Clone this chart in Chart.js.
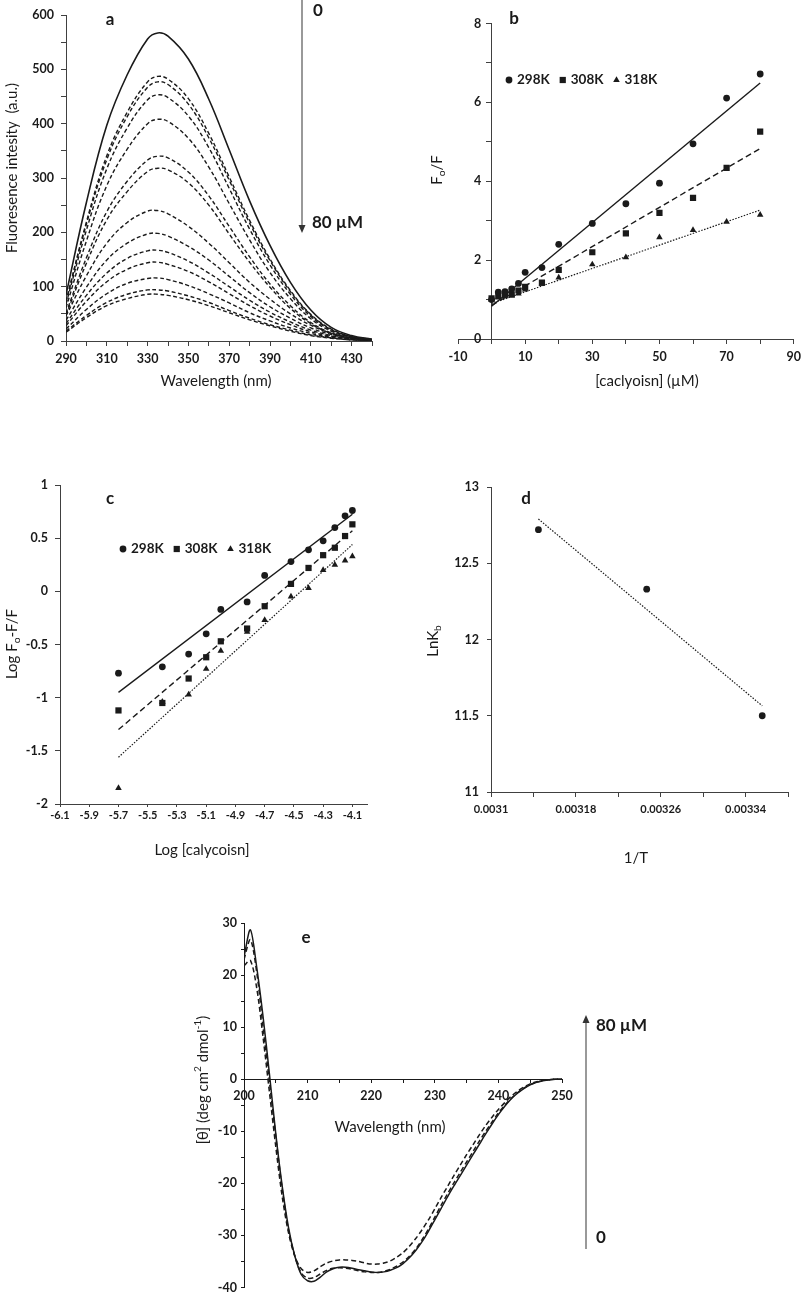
<!DOCTYPE html>
<html>
<head>
<meta charset="utf-8">
<script src="https://cdn.jsdelivr.net/npm/chart.js@4.4.1/dist/chart.umd.min.js"></script>
<style>
    html, body { margin: 0; padding: 0; background: #fff; }
    #fig { position: relative; width: 806px; height: 1299px; background: #fff; overflow: hidden; }
    #fig canvas { position: absolute; }
</style>
</head>
<body>
<div id="fig">
    <canvas id="chartA" width="400" height="400" style="left:0;top:0"></canvas>
    <canvas id="chartB" width="406" height="400" style="left:400px;top:0"></canvas>
    <canvas id="chartC" width="400" height="420" style="left:0;top:460px"></canvas>
    <canvas id="chartD" width="406" height="420" style="left:400px;top:460px"></canvas>
    <canvas id="chartE" width="520" height="419" style="left:150px;top:880px"></canvas>
</div>
<script>
// ── Panel a: emission spectra, 0 → 80 µM calycosin ───────────────────────
const emWavelength = [290, 300, 310, 320, 330, 335, 340, 350, 360, 370, 380, 390, 400, 410, 420, 430, 440];
const em0  = [85, 255, 397, 490, 556, 567, 561, 519, 445, 352, 258, 176, 108, 57, 25, 10, 3];
const em2  = [73, 219, 341, 421, 477, 487, 482, 446, 382, 302, 222, 151, 93, 49, 22, 8, 3];
const em4  = [72, 215, 334, 413, 467, 477, 472, 436, 374, 296, 217, 148, 91, 48, 21, 8, 3];
const em6  = [68, 204, 317, 392, 444, 453, 448, 414, 356, 281, 206, 140, 86, 45, 20, 8, 3];
const em8  = [61, 184, 286, 353, 400, 408, 404, 373, 320, 253, 186, 126, 78, 41, 18, 7, 2];
const em10 = [51, 153, 238, 294, 333, 340, 337, 311, 267, 211, 155, 105, 65, 34, 15, 6, 2];
const em15 = [48, 143, 223, 275, 312, 318, 315, 291, 250, 197, 145, 99, 60, 32, 14, 5, 2];
const em20 = [46, 120, 180, 218, 239, 240, 234, 211, 180, 144, 108, 77, 50, 29, 14, 6, 2];
const em30 = [38, 99, 149, 180, 197, 198, 193, 174, 149, 119, 89, 63, 42, 24, 12, 5, 2];
const em40 = [32, 84, 125, 152, 166, 167, 163, 147, 125, 100, 75, 53, 35, 20, 10, 4, 2];
const em50 = [28, 73, 109, 132, 144, 145, 141, 128, 109, 87, 65, 46, 30, 17, 9, 4, 1];
const em60 = [22, 58, 87, 106, 115, 116, 113, 102, 87, 70, 52, 37, 24, 14, 7, 3, 1];
const em70 = [18, 47, 71, 86, 94, 94, 92, 83, 71, 56, 42, 30, 20, 11, 6, 2, 1];
const em80 = [16, 43, 65, 78, 86, 86, 84, 76, 65, 52, 39, 28, 18, 10, 5, 2, 1];

// ── Panel b: Stern–Volmer F0/F vs concentration ─────────────────────────
const temps    = ['298K', '308K', '318K'];
const svConc   = [0, 2, 4, 6, 8, 10, 15, 20, 30, 40, 50, 60, 70, 80];
const sv298    = [1.00, 1.19, 1.20, 1.27, 1.41, 1.69, 1.81, 2.40, 2.93, 3.43, 3.95, 4.95, 6.11, 6.72];
const sv308    = [1.03, 1.09, 1.13, 1.13, 1.23, 1.32, 1.43, 1.75, 2.20, 2.68, 3.20, 3.58, 4.34, 5.26];
const sv318    = [1.00, 1.05, 1.08, 1.10, 1.15, 1.25, 1.40, 1.56, 1.89, 2.07, 2.58, 2.76, 2.97, 3.15];
const svFitX   = [0, 80];
const svFit298 = [0.83, 6.49];
const svFit308 = [0.85, 4.83];
const svFit318 = [0.90, 3.27];

// ── Panel c: double-log plot ────────────────────────────────────────────
const logConc   = [-5.7, -5.4, -5.22, -5.1, -5.0, -4.82, -4.7, -4.52, -4.4, -4.3, -4.22, -4.15, -4.1];
const dl298     = [-0.77, -0.71, -0.59, -0.40, -0.17, -0.10, 0.15, 0.28, 0.39, 0.475, 0.60, 0.71, 0.76];
const dl308     = [-1.12, -1.05, -0.82, -0.62, -0.47, -0.35, -0.14, 0.07, 0.22, 0.34, 0.41, 0.52, 0.63];
const dl318     = [-1.85, -1.04, -0.97, -0.73, -0.56, -0.38, -0.27, -0.05, 0.03, 0.20, 0.25, 0.29, 0.33];
const dlFitX    = [-5.7, -4.1];
const dlFit298  = [-0.95, 0.725];
const dlFit308  = [-1.30, 0.57];
const dlFit318  = [-1.56, 0.44];
const logTicks  = [-6.1, -5.9, -5.7, -5.5, -5.3, -5.1, -4.9, -4.7, -4.5, -4.3, -4.1];

// ── Panel d: van 't Hoff ────────────────────────────────────────────────
const invT      = [0.0031447, 0.0032468, 0.0033557];
const lnKb      = [12.72, 12.33, 11.50];
const vhFitX    = [0.0031447, 0.0033557];
const vhFit     = [12.79, 11.565];
const invTTicks = [0.0031, 0.00314, 0.00318, 0.00322, 0.00326, 0.0033, 0.00334, 0.00338];

// ── Panel e: far-UV CD spectra ──────────────────────────────────────────
const cdWavelength = [200, 201, 202, 203, 204, 205, 206, 207, 208, 209, 210, 211, 212, 213, 214, 215, 216,
    217, 218, 219, 220, 221, 222, 223, 224, 225, 226, 227, 228, 229, 230, 231, 232, 233, 234, 235, 236,
    237, 238, 239, 240, 241, 242, 243, 244, 245, 246, 247, 248, 249, 250];
const cdFree = [23.5, 28.7, 21.5, 12, 1, -10.5, -20.5, -28.5, -34, -37.5, -38.7, -38.8, -38.0, -37.0, -36.4,
    -36.1, -36.1, -36.3, -36.6, -36.8, -37.0, -37.1, -37.0, -36.7, -36.2, -35.4, -34.3, -32.9, -31.2, -29.2,
    -27.0, -24.8, -22.6, -20.5, -18.5, -16.5, -14.5, -12.5, -10.5, -8.6, -6.8, -5.2, -3.8, -2.7, -1.8, -1.1,
    -0.6, -0.3, -0.1, 0, 0];
const cdMid = [23, 26.8, 20.5, 10, -0.5, -11, -21, -29, -34, -37.2, -38.2, -38.1, -37.4, -36.7, -36.3, -36.2,
    -36.3, -36.5, -36.8, -37.0, -37.1, -37.1, -36.9, -36.5, -35.9, -35.1, -34.0, -32.6, -30.8, -28.8, -26.5,
    -24.2, -22.0, -19.9, -17.9, -15.9, -13.9, -11.9, -10.0, -8.2, -6.5, -5.0, -3.7, -2.6, -1.7, -1.0, -0.6,
    -0.3, -0.1, 0, 0];
const cdHigh = [21.8, 22.8, 17.5, 8, -2.5, -13, -22.5, -29.5, -34, -36.4, -37.1, -36.8, -36.0, -35.3, -34.9,
    -34.7, -34.7, -34.8, -35.0, -35.3, -35.5, -35.5, -35.3, -34.9, -34.2, -33.3, -32.1, -30.6, -28.9, -27.0,
    -24.9, -22.7, -20.6, -18.5, -16.5, -14.5, -12.6, -10.7, -8.9, -7.3, -5.8, -4.5, -3.3, -2.3, -1.5, -0.9,
    -0.5, -0.2, -0.1, 0, 0];

// ── Shared styling ──────────────────────────────────────────────────────
const FONT = 'Lato, "Open Sans", "DejaVu Sans", sans-serif';
const INK  = '#1a1a1a';
const AXIS = '#404040';
const TITLE_SIZE = 15;

Chart.defaults.font.family = FONT;
Chart.defaults.color = INK;

function pts(xs, ys) {
    return xs.map((x, i) => ({ x, y: ys[i] }));
}

// label only the ticks that fall on origin + k*step, keep the others as bare marks
function every(step, origin = 0) {
    return v => {
        const k = (v - origin) / step;
        return Math.abs(k - Math.round(k)) < 1e-6 ? String(v) : '';
    };
}

function tickFont(size) {
    return { family: FONT, size, weight: 'bold' };
}

function baseAxis(extra) {
    const ax = {
        type: 'linear',
        grid  : { drawOnChartArea: false, color: AXIS, tickLength: 5 },
        border: { color: AXIS, width: 1 },
        ticks : { color: INK, font: tickFont(12.5), autoSkip: false, maxRotation: 0, padding: 5 },
    };
    Object.keys(extra).forEach(k => {
        ax[k] = (typeof extra[k] === 'object' && !Array.isArray(extra[k]) && ax[k])
            ? Object.assign({}, ax[k], extra[k]) : extra[k];
    });
    return ax;
}

// ── Annotation plugin: titles with sub/superscripts, arrows, inline legend ──
function drawRuns(ctx, n) {
    const runs = typeof n.text === 'string' ? [[n.text]] : n.text;
    const weight = n.bold ? 'bold' : 'normal';
    ctx.save();
    ctx.translate(n.x, n.y);
    if (n.rotate) ctx.rotate(-Math.PI / 2);
    ctx.fillStyle = INK;
    ctx.textBaseline = 'middle';
    ctx.textAlign = 'left';
    const parts = runs.map(([t, kind]) => {
        const size = kind ? n.size * 0.68 : n.size;
        ctx.font = `${weight} ${size}px ${FONT}`;
        return { t, kind, size, w: ctx.measureText(t).width };
    });
    const total = parts.reduce((s, p) => s + p.w, 0);
    let cx = n.align === 'left' ? 0 : -total / 2;
    parts.forEach(p => {
        ctx.font = `${weight} ${p.size}px ${FONT}`;
        const dy = p.kind === 'sub' ? n.size * 0.3 : p.kind === 'sup' ? -n.size * 0.32 : 0;
        ctx.fillText(p.t, cx, dy);
        cx += p.w;
    });
    ctx.restore();
}

function drawArrow(ctx, n) {
    const dir = Math.sign(n.to - n.from);
    ctx.save();
    ctx.strokeStyle = '#555';
    ctx.fillStyle = '#333';
    ctx.lineWidth = 1.2;
    ctx.beginPath();
    ctx.moveTo(n.x, n.from);
    ctx.lineTo(n.x, n.to - dir * 5);
    ctx.stroke();
    ctx.beginPath();
    ctx.moveTo(n.x, n.to);
    ctx.lineTo(n.x - 3.5, n.to - dir * 8);
    ctx.lineTo(n.x + 3.5, n.to - dir * 8);
    ctx.closePath();
    ctx.fill();
    ctx.restore();
}

function drawLegend(chart, n) {
    const ctx = chart.ctx;
    let cx = n.x;
    chart.data.datasets.filter(d => d.inLegend).forEach(d => {
        ctx.save();
        ctx.fillStyle = INK;
        Chart.helpers.drawPoint(ctx, { pointStyle: d.pointStyle, radius: d.pointRadius, rotation: 0, borderWidth: 0 }, cx, n.y);
        ctx.font = `bold ${n.size}px ${FONT}`;
        ctx.textBaseline = 'middle';
        ctx.textAlign = 'left';
        ctx.fillText(d.label, cx + 8, n.y);
        cx += 8 + ctx.measureText(d.label).width + 13;
        ctx.restore();
    });
}

function notes(items) {
    return {
        id: 'notes',
        afterDraw(chart) {
            items.forEach(item => {
                if (item.arrow) drawArrow(chart.ctx, item);
                else if (item.legend) drawLegend(chart, item);
                else drawRuns(chart.ctx, item);
            });
        },
    };
}

const common = {
    responsive: false,
    animation : false,
    events    : [],
    plugins   : { legend: { display: false }, tooltip: { enabled: false } },
};

function markers(xs, series) {
    const styles = [['circle', 3.4], ['rect', 4.4], ['triangle', 3.8]];
    return series.map((ys, i) => ({
        label: temps[i], inLegend: true,
        data: pts(xs, ys),
        showLine: false,
        pointStyle: styles[i][0], pointRadius: styles[i][1],
        backgroundColor: INK, borderWidth: 0,
    }));
}

function fits(xs, series) {
    const dashes = [[], [6, 3.5], [1.5, 1.5]];
    return series.map((ys, i) => ({
        data: pts(xs, ys),
        showLine: true, pointRadius: 0,
        borderColor: INK, borderWidth: i === 2 ? 1.2 : 1.4, borderDash: dashes[i],
    }));
}

// ── a ───────────────────────────────────────────────────────────────────
function initSpectra() {
    const curves = [em0, em2, em4, em6, em8, em10, em15, em20, em30, em40, em50, em60, em70, em80];
    new Chart(document.getElementById('chartA'), {
        type: 'scatter',
        data: {
            datasets: curves.map((ys, i) => ({
                data: pts(emWavelength, ys),
                showLine: true, pointRadius: 0, tension: 0.4,
                borderColor: INK,
                borderWidth: i === 0 ? 1.6 : 1.4,
                borderDash : i === 0 ? [] : [4, 2.5],
            })),
        },
        options: Object.assign({}, common, {
            layout: { padding: { left: 0, right: 28, top: 15, bottom: 0 } },
            scales: {
                x: baseAxis({ min: 290, max: 440, afterFit: s => { s.height = 59; },
                    ticks: { stepSize: 10, callback: every(20, 290), padding: 5 } }),
                y: baseAxis({ min: 0, max: 600, afterFit: s => { s.width = 66; },
                    ticks: { stepSize: 50, callback: every(100), padding: 7 } }),
            },
        }),
        plugins: [notes([
            { text: 'a', x: 110, y: 20, size: 17, bold: true },
            { text: 'Fluoresence intesity  (a.u.)', x: 12, y: 168, size: TITLE_SIZE, rotate: true },
            { text: 'Wavelength (nm)', x: 216, y: 381, size: TITLE_SIZE },
            { arrow: true, x: 302, from: 0, to: 233 },
            { text: '0', x: 313, y: 11, size: 17, bold: true, align: 'left' },
            { text: '80 µM', x: 312, y: 223, size: 17, bold: true, align: 'left' },
        ])],
    });
}

// ── b ───────────────────────────────────────────────────────────────────
function initSternVolmer() {
    new Chart(document.getElementById('chartB'), {
        type: 'scatter',
        data: {
            datasets: markers(svConc, [sv298, sv308, sv318])
                .concat(fits(svFitX, [svFit298, svFit308, svFit318])),
        },
        options: Object.assign({}, common, {
            layout: { padding: { left: 0, right: 8, top: 13, bottom: 0 } },
            scales: {
                x: baseAxis({ min: -10, max: 90, afterFit: s => { s.height = 61; },
                    ticks: { stepSize: 10, callback: every(20, -10), padding: 5 } }),
                // axis line + marks sit on x = 0
                y: baseAxis({ position: { x: 0 }, min: 0, max: 8,
                    ticks: { stepSize: 1, display: false } }),
                // labels only; mirrored so they can sit just left of the x = 0 line
                y2: baseAxis({ axis: 'y', position: 'left', min: 0, max: 8,
                    afterFit: s => { s.width = 58; },
                    grid: { display: false, drawTicks: false },
                    border: { display: false },
                    ticks: { stepSize: 2, mirror: true, padding: 16 } }),
            },
        }),
        plugins: [notes([
            { text: 'b', x: 114, y: 19, size: 17, bold: true },
            { text: [['F'], ['o', 'sub'], ['/F']], x: 37, y: 170, size: TITLE_SIZE, rotate: true },
            { text: '[caclyoisn] (µM)', x: 247, y: 381, size: TITLE_SIZE },
            { legend: true, x: 109, y: 80, size: 13.5 },
        ])],
    });
}

// ── c ───────────────────────────────────────────────────────────────────
function initDoubleLog() {
    new Chart(document.getElementById('chartC'), {
        type: 'scatter',
        data: {
            datasets: markers(logConc, [dl298, dl308, dl318])
                .concat(fits(dlFitX, [dlFit298, dlFit308, dlFit318])),
        },
        options: Object.assign({}, common, {
            layout: { padding: { left: 0, right: 33, top: 25, bottom: 0 } },
            scales: {
                x: baseAxis({ min: -6.1, max: -4.0, afterFit: s => { s.height = 76; },
                    afterBuildTicks: s => { s.ticks = logTicks.map(v => ({ value: v })); },
                    grid: { tickLength: 3 },
                    ticks: { callback: v => v.toFixed(1), font: tickFont(11), padding: 2 } }),
                y: baseAxis({ min: -2, max: 1, afterFit: s => { s.width = 60; },
                    ticks: { stepSize: 0.5, callback: v => String(v), padding: 7 } }),
            },
        }),
        plugins: [notes([
            { text: 'c', x: 110, y: 39, size: 17, bold: true },
            { text: [['Log F'], ['o', 'sub'], ['-F/F']], x: 12, y: 184, size: TITLE_SIZE, rotate: true },
            { text: 'Log [calycoisn]', x: 202, y: 390, size: TITLE_SIZE },
            { legend: true, x: 123, y: 89, size: 13.5 },
        ])],
    });
}

// ── d ───────────────────────────────────────────────────────────────────
function initVantHoff() {
    new Chart(document.getElementById('chartD'), {
        type: 'scatter',
        data: {
            datasets: [
                { data: pts(invT, lnKb), showLine: false, pointStyle: 'circle', pointRadius: 3.4,
                  backgroundColor: INK, borderWidth: 0 },
                { data: pts(vhFitX, vhFit), showLine: true, pointRadius: 0,
                  borderColor: INK, borderWidth: 1.2, borderDash: [1.5, 1.5] },
            ],
        },
        options: Object.assign({}, common, {
            layout: { padding: { left: 0, right: 18, top: 27, bottom: 0 } },
            scales: {
                x: baseAxis({ min: 0.0031, max: 0.00338, afterFit: s => { s.height = 88; },
                    afterBuildTicks: s => { s.ticks = invTTicks.map(v => ({ value: v })); },
                    ticks: { callback: (v, i) => (i % 2 === 0 ? String(invTTicks[i]) : ''),
                             font: tickFont(11), padding: 6 } }),
                y: baseAxis({ min: 11, max: 13, afterFit: s => { s.width = 91; },
                    ticks: { stepSize: 0.5, callback: v => String(v), padding: 8 },
                    grid: { tickLength: 4 } }),
            },
        }),
        plugins: [notes([
            { text: 'd', x: 126, y: 39, size: 17, bold: true },
            { text: [['LnK'], ['b', 'sub']], x: 33, y: 181, size: TITLE_SIZE, rotate: true },
            { text: '1/T', x: 236, y: 398, size: TITLE_SIZE },
        ])],
    });
}

// ── e ───────────────────────────────────────────────────────────────────
function initCD() {
    const series = [cdFree, cdMid, cdHigh];
    new Chart(document.getElementById('chartE'), {
        type: 'scatter',
        data: {
            datasets: series.map((ys, i) => ({
                data: pts(cdWavelength, ys),
                showLine: true, pointRadius: 0, tension: 0.3,
                borderColor: INK, borderWidth: 1.5,
                borderDash: i === 0 ? [] : [5, 3],
            })),
        },
        options: Object.assign({}, common, {
            layout: { padding: { left: 0, right: 108, top: 43, bottom: 6 } },
            scales: {
                x: baseAxis({ position: { y: 0 }, min: 200, max: 250,
                    grid: { tickLength: 3, color: INK }, border: { color: INK },
                    ticks: { stepSize: 5, callback: every(10), padding: 6 } }),
                y: baseAxis({ min: -40, max: 30, afterFit: s => { s.width = 94; },
                    grid: { tickLength: 3, color: INK }, border: { color: INK },
                    ticks: { stepSize: 5, callback: every(10), padding: 4 } }),
            },
        }),
        plugins: [notes([
            { text: 'e', x: 156, y: 58, size: 17, bold: true },
            { text: [['[θ] (deg cm'], ['2', 'sup'], [' dmol'], ['-1', 'sup'], [')']], x: 53, y: 200, size: TITLE_SIZE, rotate: true },
            { text: 'Wavelength (nm)', x: 240, y: 247, size: TITLE_SIZE },
            { arrow: true, x: 436, from: 369, to: 135 },
            { text: '80 µM', x: 446, y: 146, size: 17, bold: true, align: 'left' },
            { text: '0', x: 446, y: 358, size: 17, bold: true, align: 'left' },
        ])],
    });
}

initSpectra();
initSternVolmer();
initDoubleLog();
initVantHoff();
initCD();
</script>
</body>
</html>
